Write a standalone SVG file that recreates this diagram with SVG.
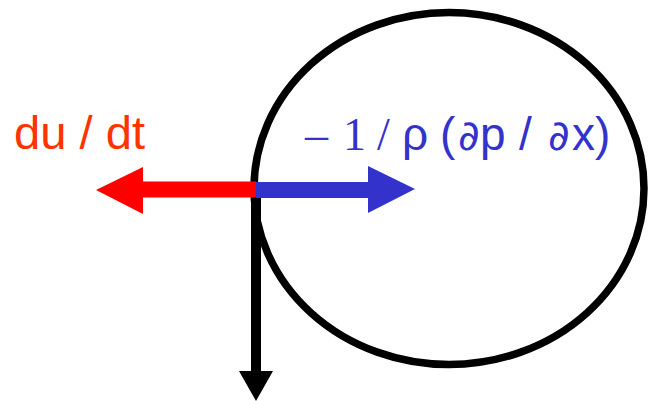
<svg xmlns="http://www.w3.org/2000/svg" width="648" height="401" viewBox="0 0 648 401">
<style>
.sans{font-family:"Liberation Sans",Arial,sans-serif}
.serif{font-family:"Liberation Serif","Times New Roman",serif}
.dj{font-family:"DejaVu Sans","Noto Sans",sans-serif}
</style>
<rect width="648" height="401" fill="#fff"/>
<g id="circle">
<ellipse cx="449" cy="188.5" rx="195" ry="176" fill="none" stroke="#000" stroke-width="7.5"/>
</g>
<g id="connectors">
<path d="M256 197 V372" stroke="#000" stroke-width="10" fill="none"/>
<polygon points="239,371 273,371 256,401" fill="#000"/>
<path d="M256 189.5 H142" stroke="#f00" stroke-width="16" fill="none"/>
<polygon points="143,167 143,214 96,190" fill="#f00"/>
<path d="M256 190 H369" stroke="#3333cc" stroke-width="16" fill="none"/>
<polygon points="368,166 368,213 415,189" fill="#3333cc"/>
</g>
<g id="label-dudt">
<text x="14" y="149" class="sans" font-size="46" fill="#ff3300" textLength="131" lengthAdjust="spacingAndGlyphs">du / dt</text>
</g>
<g id="label-pressure" fill="#3333cc" font-size="46">
<text y="150"><tspan x="305" class="serif">–</tspan><tspan x="343" class="serif">1</tspan><tspan x="377" class="serif">/</tspan><tspan x="402" class="sans">ρ</tspan><tspan x="440" class="sans">(</tspan><tspan x="458" class="dj" font-size="42">∂</tspan><tspan x="480" class="sans">p</tspan><tspan x="519" class="sans">/</tspan><tspan x="548" class="dj" font-size="42">∂</tspan><tspan x="572" class="sans">x)</tspan></text>
</g>
</svg>
